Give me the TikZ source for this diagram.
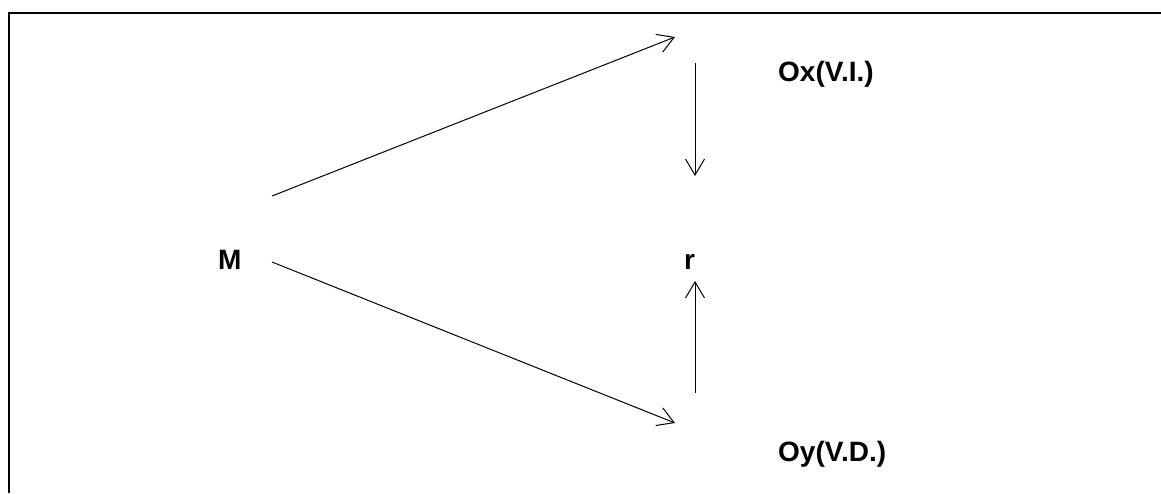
\documentclass[tikz,border=0pt]{standalone}
\usepackage{fontspec}
\setmainfont{Liberation Sans}
\usetikzlibrary{arrows.meta}

\begin{document}
\begin{tikzpicture}[x=1pt,y=-1pt]
      \useasboundingbox (0,0) rectangle (1161,493);
      % frame, only top and left side
      \draw[line width=2pt] (1161,13) -- (9,13) -- (9,493);
      \begin{scope}[every node/.style={inner sep=0pt,anchor=base west,
          font=\fontsize{28}{34}\selectfont\bfseries}]
        \node (M) at (218,269) {M};
        \node (r) at (684,269) {r};
        \node (Ox) at (778,81) {Ox(V.I.)};
        \node (Oy) at (778,461) {Oy(V.D.)};
      \end{scope}
      \coordinate (M1) at (272,196);
      \coordinate (M2) at (272,262);
      \coordinate (X1) at (675,37);
      \coordinate (Y1) at (675,423);
      \coordinate (R1) at (695,63);
      \coordinate (R2) at (695,176);
      \coordinate (R3) at (695,393);
      \coordinate (R4) at (695,281);
      \begin{scope}
        [every path/.style={draw=black, line width=1pt,
          -{Straight Barb[length=16pt,width=19pt]}}]
        \path (M1) -- (X1);
        \path (M2) -- (Y1);
        \path (R1) -- (R2);
        \path (R3) -- (R4);
      \end{scope}
    \end{tikzpicture}
\end{document}
